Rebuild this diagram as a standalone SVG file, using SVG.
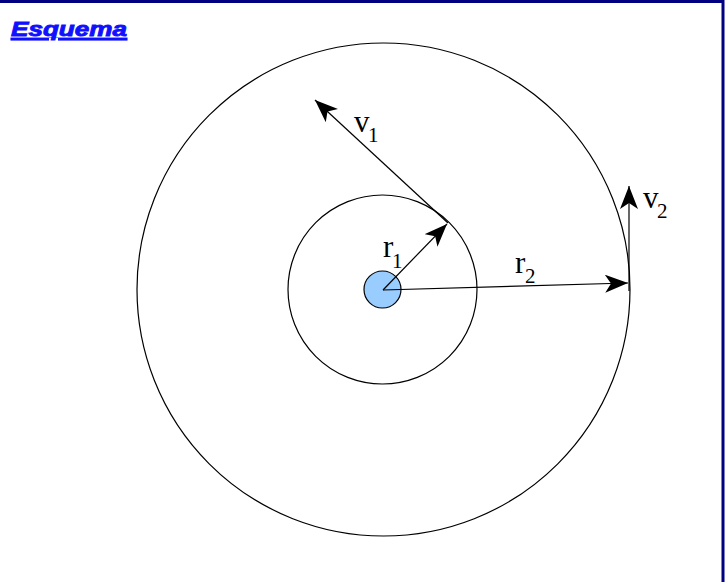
<svg xmlns="http://www.w3.org/2000/svg" width="728" height="582" viewBox="0 0 728 582">
<style>
.c{fill:none;stroke:#000;stroke-width:1.2}
.a{fill:none;stroke:#000;stroke-width:1.2}
.m{font-family:"Liberation Serif",serif;font-size:31px;fill:#000}
.s{font-family:"Liberation Serif",serif;font-size:21px;fill:#000}
</style>
<defs>
<marker id="ah" markerUnits="userSpaceOnUse" markerWidth="26" markerHeight="20" refX="23" refY="9" orient="auto">
<path d="M0,0 L23,9 L0,18 L6,9 z" fill="#000"/>
</marker>
</defs>
<rect x="0" y="0" width="728" height="582" fill="#fff"/>
<line x1="0" y1="1.5" x2="724" y2="1.5" stroke="#000080" stroke-width="3"/>
<line x1="723" y1="0" x2="723" y2="582" stroke="#000080" stroke-width="3"/>
<text x="11" y="36" font-family="'Liberation Sans',Arial,sans-serif" font-size="21" font-weight="bold" font-style="italic" fill="#1010ff" stroke="#1010ff" stroke-width="0.9" text-decoration="underline" textLength="116" lengthAdjust="spacingAndGlyphs">Esquema</text>
<g id="outer"><circle class="c" cx="383.5" cy="289.5" r="246.5"/></g>
<g id="inner"><circle class="c" cx="382.5" cy="289.5" r="94.5"/></g>
<g id="center"><circle cx="382.5" cy="289.5" r="18.5" fill="#99ccff" stroke="#000" stroke-width="1.2"/></g>
<g id="connectors">
<line class="a" x1="383" y1="290" x2="447" y2="224" marker-end="url(#ah)"/>
<line class="a" x1="383" y1="290" x2="628" y2="283" marker-end="url(#ah)"/>
<line class="a" x1="448" y1="223" x2="315" y2="100" marker-end="url(#ah)"/>
<line class="a" x1="629" y1="291" x2="629" y2="186" marker-end="url(#ah)"/>
</g>
<g id="labels">
<text class="m" x="354" y="132">v</text><text class="s" x="368" y="142">1</text>
<text class="m" x="383" y="257">r</text><text class="s" x="392" y="268">1</text>
<text class="m" x="515" y="273">r</text><text class="s" x="525" y="283">2</text>
<text class="m" x="643" y="208">v</text><text class="s" x="657" y="218">2</text>
</g>
</svg>
